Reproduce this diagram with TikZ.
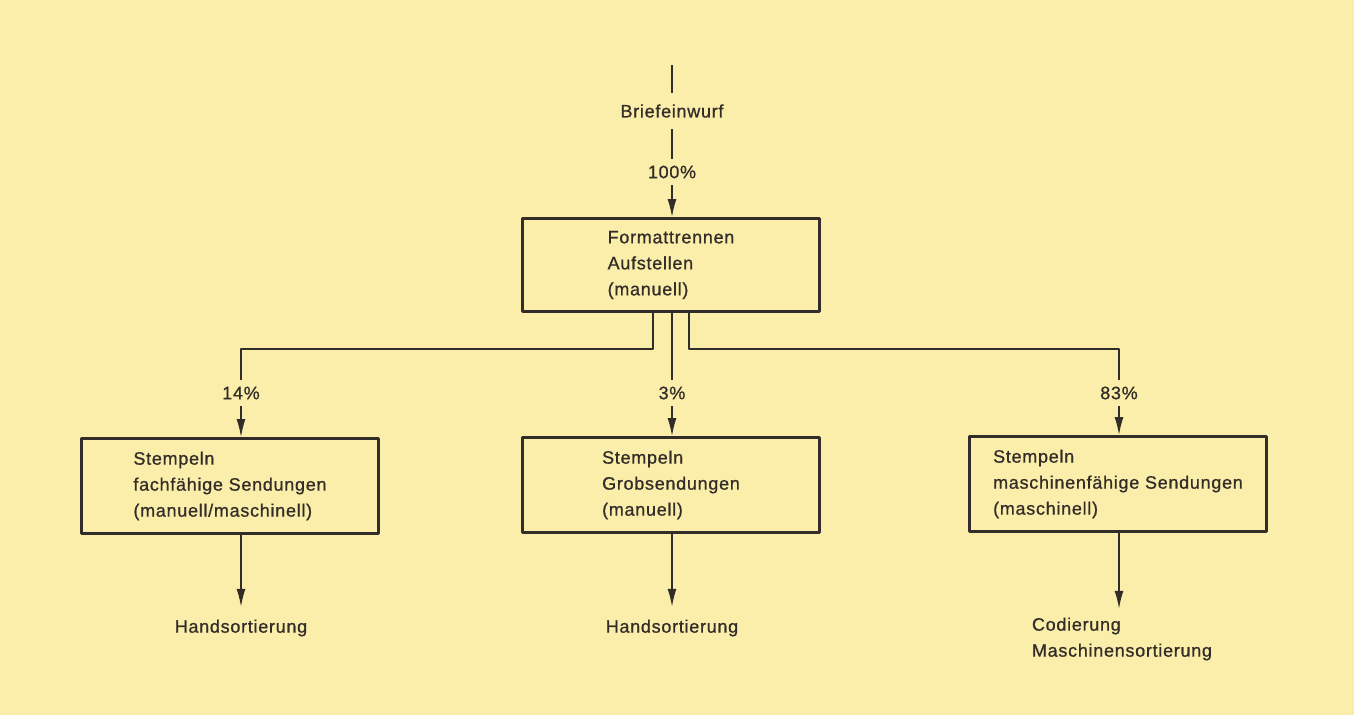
\documentclass[tikz,border=0pt]{standalone}
\usepackage{fontspec}
\setmainfont{Liberation Sans}[LetterSpace=4, FakeBold=0.8]
\usetikzlibrary{arrows.meta,positioning}
\definecolor{paper}{RGB}{251,237,170}
\definecolor{ink}{RGB}{50,45,40}
\begin{document}
\begin{tikzpicture}[x=1pt,y=-1pt, font=\fontsize{18}{26}\selectfont, line join=round, >={Latex[length=18pt,width=9pt]}, color=ink, line width=1.6pt,
    kasten/.style={draw, line width=2.8pt, align=left, minimum width=297pt, minimum height=95pt, inner sep=0pt},
    pct/.style={inner sep=6pt}, ziel/.style={inner sep=12pt, align=left}]
    \fill[paper] (0,0) rectangle (1354,715);
    \useasboundingbox (0,0) rectangle (1354,715);
    \node[kasten, minimum height=93pt] (fmt) at (671,265) {Formattrennen\\Aufstellen\\(manuell)};
    \node[kasten] (stl) at (230,486) {Stempeln\\fachfähige Sendungen\\(manuell/maschinell)};
    \node[kasten] (stm) at (671,485) {Stempeln\\Grobsendungen\\(manuell)};
    \node[kasten] (str) at (1118,484) {Stempeln\\maschinenfähige Sendungen\\(maschinell)};
    \node[inner sep=11pt] (brief) at (672,111) {Briefeinwurf};
    \node[pct] (p100) at (672,172) {100\%};
    \node[pct] (p14) at (241,393) {14\%};
    \node[pct] (p3) at (672,393) {3\%};
    \node[pct] (p83) at (1119,393) {83\%};
    \node[ziel] (h1) at (241,628) {Handsortierung};
    \node[ziel] (h2) at (672,628) {Handsortierung};
    \node[ziel, inner sep=8pt] (cod) at (1122,639) {Codierung\\Maschinensortierung};
    \coordinate (top) at (672,65);
    \coordinate (fl) at ([xshift=-18pt]fmt.south);
    \coordinate (fr) at ([xshift=18pt]fmt.south);
    \coordinate (kl) at (241,349);
    \coordinate (kr) at (1119,349);
    \draw (top) -- (brief.north);
    \draw (brief) -- (p100);
    \draw[->] (p100) -- (p100 |- fmt.north);
    \draw (fl) |- (kl) -- (p14);
    \draw (p3 |- fmt.south) -- (p3);
    \draw (fr) |- (kr) -- (p83);
    \draw[->] (p14) -- (p14 |- stl.north);
    \draw[->] (p3) -- (p3 |- stm.north);
    \draw[->] (p83) -- (p83 |- str.north);
    \draw[->] (stl.south -| p14) -- (h1);
    \draw[->] (stm.south -| h2) -- (h2);
    \draw[->] (str.south -| p83) -- (p83 |- cod.north);
\end{tikzpicture}
\end{document}
